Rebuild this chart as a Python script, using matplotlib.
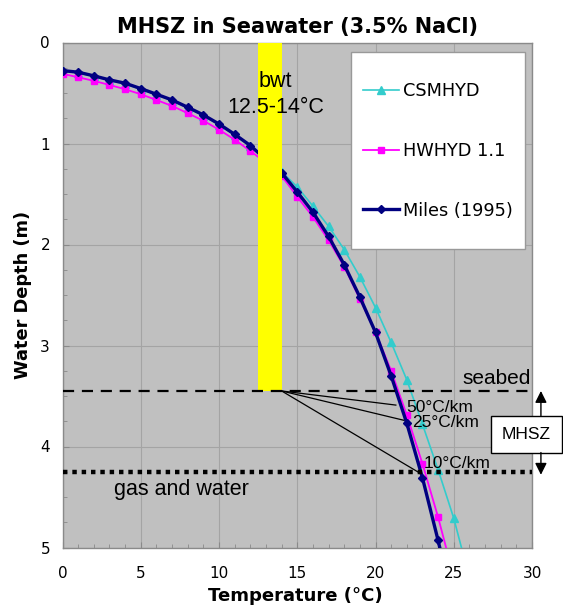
import matplotlib
matplotlib.use("Agg")
import matplotlib.pyplot as plt
from matplotlib.patches import Rectangle
from matplotlib.ticker import MultipleLocator

# ---------------- data ----------------
temps = list(range(0, 26))
temps_cs = list(range(0, 27))

csmhyd = [0.285, 0.300, 0.335, 0.375, 0.410, 0.462, 0.518, 0.575, 0.648, 0.724,
          0.814, 0.915, 1.025, 1.150, 1.280, 1.430, 1.620, 1.820, 2.050, 2.320,
          2.625, 2.970, 3.340, 3.780, 4.230, 4.710, 5.300]
hwhyd = [0.310, 0.344, 0.380, 0.420, 0.463, 0.512, 0.569, 0.628, 0.700, 0.774,
         0.863, 0.962, 1.074, 1.190, 1.320, 1.527, 1.726, 1.957, 2.220, 2.540,
         2.870, 3.250, 3.690, 4.170, 4.700, 5.290]
miles = [0.278, 0.294, 0.330, 0.370, 0.403, 0.456, 0.512, 0.569, 0.641, 0.717,
         0.807, 0.909, 1.020, 1.160, 1.290, 1.480, 1.680, 1.920, 2.200, 2.520,
         2.870, 3.300, 3.770, 4.310, 4.930, 5.600]

series_labels = ["CSMHYD", "HWHYD 1.1", "Miles (1995)"]

bwt_range = [12.5, 14.0]
seabed_depth = 3.45
gas_water_depth = 4.25

grad_labels = ["50°C/km", "25°C/km", "10°C/km"]
grad_end_t = [21.3, 21.8, 22.8]
grad_end_d = [3.59, 3.74, 4.26]

xticks = [0, 5, 10, 15, 20, 25, 30]
yticks = [0, 1, 2, 3, 4, 5]

# ---------------- figure ----------------
fig = plt.figure(figsize=(5.63, 6.06), dpi=100)
ax = fig.add_axes([62.5 / 563, 1 - 547.5 / 606, 469.5 / 563, 505 / 606])
ax.set_facecolor("#c0c0c0")

ax.set_xlim(0, 30)
ax.set_ylim(5, 0)
ax.set_xticks(xticks)
ax.set_yticks(yticks)
ax.xaxis.set_minor_locator(MultipleLocator(1))
ax.yaxis.set_minor_locator(MultipleLocator(0.25))
ax.grid(True, which="major", color="#a4a4a4", linewidth=0.8)
ax.set_axisbelow(True)
ax.tick_params(which="both", direction="in", color="#8a8a8a")
ax.tick_params(which="major", length=4)
ax.tick_params(which="minor", length=3)
ax.tick_params(axis="x", which="major", labelsize=11, pad=13)
ax.tick_params(axis="y", which="major", labelsize=11, pad=9)
for s in ax.spines.values():
    s.set_color("#8a8a8a")
    s.set_linewidth(1.0)

# series
l1, = ax.plot(temps_cs, csmhyd, color="#33cccc", lw=1.2, marker="^", ms=5.5,
              label=series_labels[0], zorder=3)
l2, = ax.plot(temps, hwhyd, color="#ff00ff", lw=1.3, marker="s", ms=5,
              label=series_labels[1], zorder=4)
l3, = ax.plot(temps, miles, color="#000080", lw=2.4, marker="D", ms=4.5,
              label=series_labels[2], zorder=5)

# bottom water temperature band
ax.add_patch(Rectangle((bwt_range[0], 0), bwt_range[1] - bwt_range[0], seabed_depth,
                       facecolor="#ffff00", edgecolor="none", zorder=6))
ax.text(13.6, 0.39, "bwt", ha="center", va="center", fontsize=15.5,
        family="Liberation Sans", zorder=7)
ax.text(13.6, 0.645, "12.5-14°C", ha="center", va="center", fontsize=15.5,
        family="Liberation Sans", zorder=7)

# seabed and gas/water lines
ax.plot([0, 30], [seabed_depth, seabed_depth], color="black", lw=1.6,
        ls=(0, (5, 3.5)), zorder=6)
ax.plot([0, 30], [gas_water_depth, gas_water_depth], color="black", lw=3.2,
        ls=(0, (1, 1.1)), zorder=6)
ax.text(29.9, 3.33, "seabed", ha="right", va="center", fontsize=15,
        family="Liberation Sans", zorder=7)
ax.text(3.3, 4.43, "gas and water", ha="left", va="center", fontsize=15.5,
        family="Liberation Sans", zorder=7)

# gradient lines
for tt, dd in zip(grad_end_t, grad_end_d):
    ax.plot([bwt_range[1], tt], [seabed_depth, dd], color="black", lw=0.9, zorder=6)
ax.text(21.95, 3.61, grad_labels[0], ha="left", va="center", fontsize=12.5,
        family="Liberation Sans", zorder=7)
ax.text(22.35, 3.76, grad_labels[1], ha="left", va="center", fontsize=12.5,
        family="Liberation Sans", zorder=7)
ax.text(23.1, 4.17, grad_labels[2], ha="left", va="center", fontsize=12.5,
        family="Liberation Sans", zorder=7)

# MHSZ box with arrows (extends outside axes)
ax.add_patch(Rectangle((27.36, 3.695), 4.55, 0.365, facecolor="white",
                       edgecolor="black", lw=1.0, zorder=8, clip_on=False))
ax.text(29.63, 3.88, "MHSZ", ha="center", va="center", fontsize=12.5,
        family="Liberation Sans", zorder=9, clip_on=False)
ax.annotate("", xy=(30.57, 3.45), xytext=(30.57, 3.695), annotation_clip=False,
            arrowprops=dict(arrowstyle="-|>,head_width=0.35,head_length=0.7",
                            color="black", lw=1.0, shrinkA=0, shrinkB=0), zorder=9)
ax.annotate("", xy=(30.57, 4.28), xytext=(30.57, 4.06), annotation_clip=False,
            arrowprops=dict(arrowstyle="-|>,head_width=0.35,head_length=0.7",
                            color="black", lw=1.0, shrinkA=0, shrinkB=0), zorder=9)

# legend: manual box + frameless legend
ax.add_patch(Rectangle((0.6145, 0.5905), 0.3705, 0.3901, transform=ax.transAxes,
                       facecolor="white", edgecolor="#999999", lw=1.0, zorder=10))
leg = ax.legend(handles=[l1, l2, l3], loc="center",
                bbox_to_anchor=(0.6145 + 0.3705 / 2, 0.5905 + 0.3901 / 2),
                frameon=False, fontsize=12.8, labelspacing=2.35,
                handlelength=2.0, handletextpad=0.25, borderpad=0.2)
leg.set_zorder(11)

# labels
ax.set_title("MHSZ in Seawater (3.5% NaCl)", fontsize=15, fontweight="bold", pad=7)
ax.set_xlabel("Temperature (°C)", fontsize=13, fontweight="bold")
ax.set_ylabel("Water Depth (m)", fontsize=12.8, fontweight="bold")
ax.xaxis.set_label_coords(0.495, -0.078)
ax.yaxis.set_label_coords(-0.066, 0.5)

fig.savefig("out.png", dpi=100)
